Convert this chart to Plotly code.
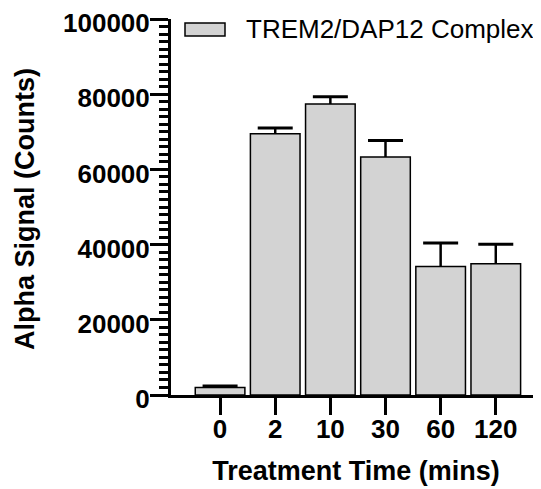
import plotly.graph_objects as go

categories = ["0", "2", "10", "30", "60", "120"]
values = [2000, 69500, 77400, 63300, 34200, 34900]
errors = [400, 1500, 1900, 4400, 6200, 5200]
series_name = "TREM2/DAP12 Complex"
x_title = "Treatment Time (mins)"
y_title = "Alpha Signal (Counts)"
y_ticks = [0, 20000, 40000, 60000, 80000, 100000]

FONT = "Liberation Sans, Arial, sans-serif"

# figure geometry (page is offset by 8px body margin)
W, H = 533, 481
L, R, T, B = 163, 0, 9, 94
PW, PH = W - L - R, H - T - B

def px(X):
    return (X - L) / PW

def py(Y):
    return (H - B - Y) / PH

xs = list(range(len(categories)))

fig = go.Figure()
fig.add_trace(go.Bar(
    x=xs, y=values, name=series_name,
    width=0.9,
    marker=dict(color="#d3d3d3", line=dict(color="black", width=1.5)),
    showlegend=False,
))

# upward-only error bars: stems + caps built from data
stem_x, stem_y = [], []
for i, v, e in zip(xs, values, errors):
    stem_x += [i, i, None]
    stem_y += [v, v + e, None]
fig.add_trace(go.Scatter(x=stem_x, y=stem_y, mode="lines",
                         line=dict(color="black", width=2.5),
                         showlegend=False, hoverinfo="skip"))
fig.add_trace(go.Scatter(x=xs, y=[v + e for v, e in zip(values, errors)],
                         mode="markers",
                         marker=dict(symbol="line-ew", size=25,
                                     line=dict(color="black", width=3)),
                         showlegend=False, hoverinfo="skip"))

fig.update_layout(
    width=W, height=H,
    margin=dict(l=L, r=R, t=T, b=B),
    plot_bgcolor="white", paper_bgcolor="white",
    font=dict(family=FONT, color="black"),
)
fig.update_xaxes(
    range=[-0.89, 5.82],
    tickmode="array", tickvals=xs, ticktext=categories,
    showline=True, linecolor="black", linewidth=3,
    ticks="outside", ticklen=17, tickwidth=3, tickcolor="black",
    tickfont=dict(size=26, weight="bold", family=FONT),
    ticklabeloverflow="allow", ticklabelstandoff=-8,
    showgrid=False, zeroline=False,
    title=dict(text=x_title, font=dict(size=27, weight="bold", family=FONT), standoff=18),
)
fig.update_yaxes(
    range=[0, 100000],
    tickmode="array", tickvals=y_ticks, ticktext=[str(t) for t in y_ticks],
    showline=True, linecolor="black", linewidth=3,
    ticks="outside", ticklen=18, tickwidth=3, tickcolor="black",
    minor=dict(dtick=2000, ticks="outside", ticklen=9, tickwidth=2.5, tickcolor="black", showgrid=False),
    tickfont=dict(size=26, weight="bold", family=FONT),
    ticklabeloverflow="allow", ticklabelstandoff=-5, ticklabelshift=4,
    showgrid=False, zeroline=False,
)

# y-axis title
fig.add_annotation(xref="paper", yref="paper", x=px(17), y=py(200),
                   text=y_title, textangle=-90, showarrow=False,
                   xanchor="center", yanchor="middle",
                   font=dict(size=27, weight="bold", family=FONT, color="black"))

# legend (swatch + label)
fig.add_shape(type="rect", xref="paper", yref="paper",
              x0=px(177), x1=px(217), y0=py(26), y1=py(13),
              fillcolor="#d3d3d3", line=dict(color="black", width=1.5))
fig.add_annotation(xref="paper", yref="paper", x=px(236), y=py(19.5),
                   text=series_name, showarrow=False, xanchor="left", yanchor="middle",
                   font=dict(size=26, family=FONT, color="black"))

fig.write_html("out.html")
